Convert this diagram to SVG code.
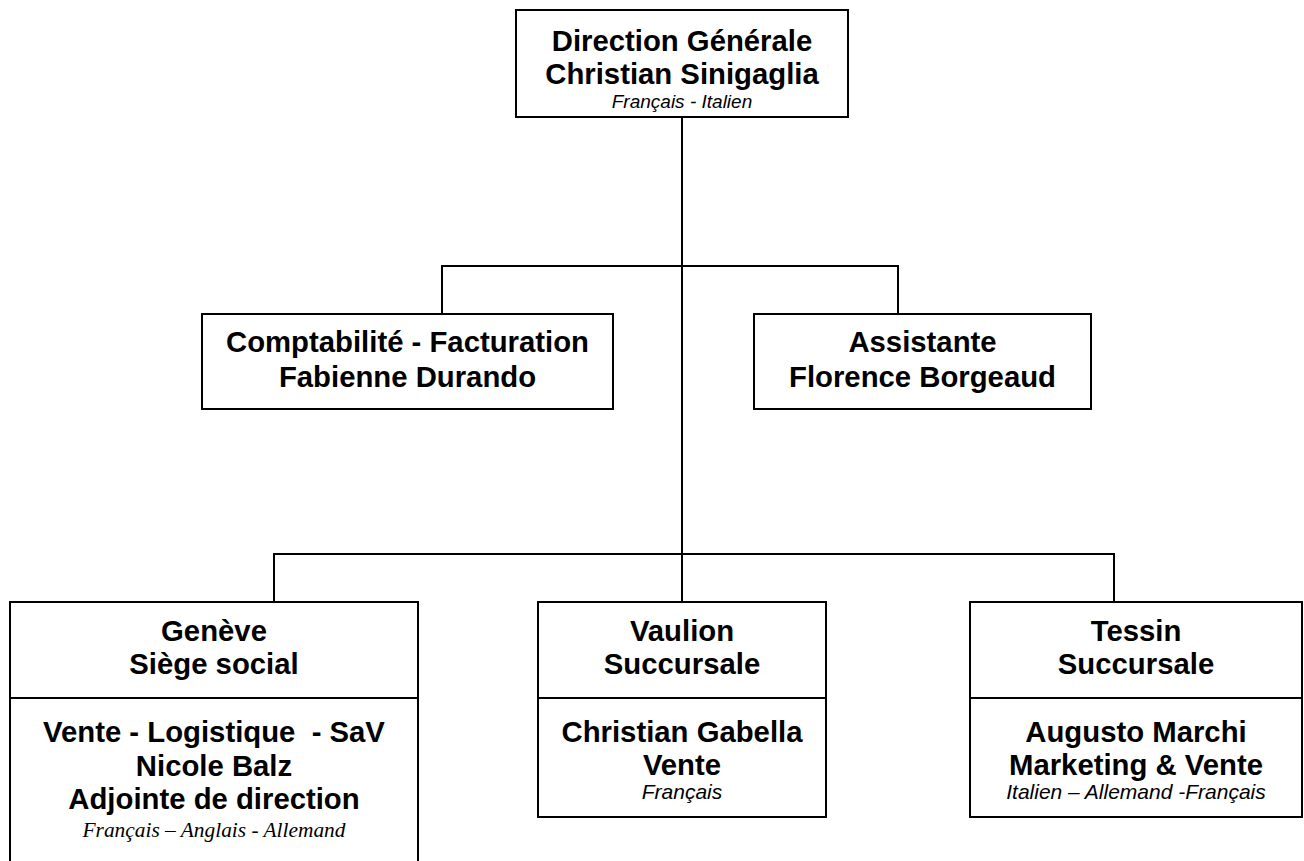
<svg xmlns="http://www.w3.org/2000/svg" width="1304" height="861" viewBox="0 0 1304 861">
<style>
.box{fill:#fff;stroke:#000;stroke-width:2}
.ln{fill:none;stroke:#000;stroke-width:2}
.b{font-family:"Liberation Sans",Arial,sans-serif;font-weight:bold;font-size:29.3px;text-anchor:middle;fill:#000;white-space:pre}
.i{font-family:"Liberation Sans",Arial,sans-serif;font-style:italic;font-size:19px;text-anchor:middle;fill:#000}
.i2{font-family:"Liberation Sans",Arial,sans-serif;font-style:italic;font-size:21px;text-anchor:middle;fill:#000}
.s{font-family:"Liberation Serif","Times New Roman",serif;font-style:italic;font-size:21.4px;text-anchor:middle;fill:#000}
</style>
<rect width="1304" height="861" fill="#fff"/>
<g id="connectors">
<path class="ln" d="M682 117 V602"/>
<path class="ln" d="M442 314 V266 H898 V314"/>
<path class="ln" d="M274 602 V554 H1114 V602"/>
</g>
<g id="direction">
<rect class="box" x="516" y="10" width="332" height="107"/>
<text class="b" x="682" y="51">Direction Générale</text>
<text class="b" x="682" y="84">Christian Sinigaglia</text>
<text class="i" x="682" y="108">Français - Italien</text>
</g>
<g id="comptabilite">
<rect class="box" x="202" y="314" width="411" height="95"/>
<text class="b" x="407.5" y="352">Comptabilité - Facturation</text>
<text class="b" x="407.5" y="387">Fabienne Durando</text>
</g>
<g id="assistante">
<rect class="box" x="754" y="314" width="337" height="95"/>
<text class="b" x="922.5" y="352">Assistante</text>
<text class="b" x="922.5" y="387">Florence Borgeaud</text>
</g>
<g id="geneve">
<rect class="box" x="10" y="602" width="408" height="270"/>
<path class="ln" d="M10 698 H418"/>
<text class="b" x="214" y="641">Genève</text>
<text class="b" x="214" y="674">Siège social</text>
<text class="b" x="214" y="742">Vente - Logistique  - SaV</text>
<text class="b" x="214" y="776">Nicole Balz</text>
<text class="b" x="214" y="809">Adjointe de direction</text>
<text class="s" x="214" y="837">Français – Anglais - Allemand</text>
</g>
<g id="vaulion">
<rect class="box" x="538" y="602" width="288" height="215"/>
<path class="ln" d="M538 698 H826"/>
<text class="b" x="682" y="641">Vaulion</text>
<text class="b" x="682" y="674">Succursale</text>
<text class="b" x="682" y="742">Christian Gabella</text>
<text class="b" x="682" y="775">Vente</text>
<text class="i2" x="682" y="799">Français</text>
</g>
<g id="tessin">
<rect class="box" x="970" y="602" width="332" height="215"/>
<path class="ln" d="M970 698 H1302"/>
<text class="b" x="1136" y="641">Tessin</text>
<text class="b" x="1136" y="674">Succursale</text>
<text class="b" x="1136" y="742">Augusto Marchi</text>
<text class="b" x="1136" y="775">Marketing &amp; Vente</text>
<text class="i2" x="1136" y="799">Italien – Allemand -Français</text>
</g>
</svg>
